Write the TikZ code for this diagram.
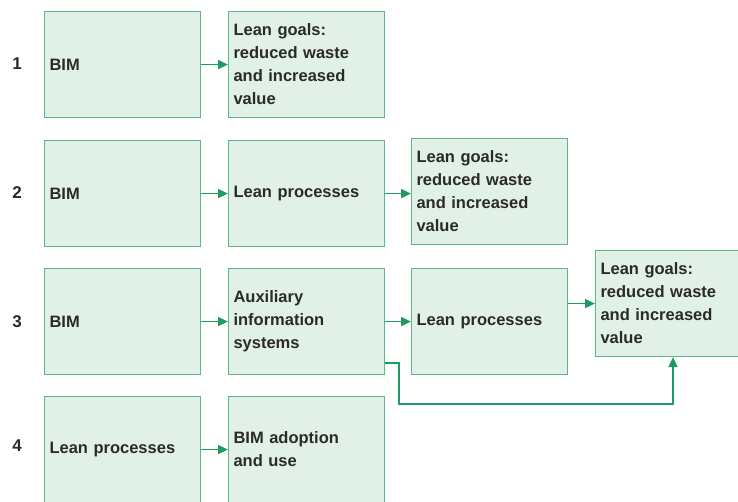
\documentclass[tikz,border=0pt]{standalone}
\usepackage{fontspec}
\setmainfont{Liberation Sans}
\usetikzlibrary{arrows.meta,calc}
\definecolor{boxfill}{HTML}{E2F1E8}
\definecolor{boxline}{HTML}{5BB787}
\definecolor{arrowc}{HTML}{1E9A62}
\definecolor{txt}{HTML}{2A2A2A}
\tikzset{
  stage/.style={draw=boxline, line width=1.1pt, fill=boxfill, rectangle, anchor=north west,
    minimum width=156pt, minimum height=106pt, text width=146pt, inner xsep=5pt,
    align=left, font=\bfseries\fontsize{16.5}{23}\selectfont, text=txt},
  num/.style={font=\bfseries\fontsize{17}{20}\selectfont, text=txt},
  flow/.style={draw=arrowc, line width=1.8pt, -{Triangle[length=10pt,width=9pt]}}
}
\begin{document}
\begin{tikzpicture}[x=1pt,y=-1pt]
\useasboundingbox (0,0) rectangle (738,501);
% row 1
\node[num] (n1) at (17,64) {1};
\node[stage] (a1) at (44,11) {BIM};
\node[stage] (b1) at (228,11) {Lean goals:\\reduced waste\\and increased\\value};
\draw[flow] (a1) -- (b1);
% row 2
\node[num] (n2) at (17,193) {2};
\node[stage] (a2) at (44,140) {BIM};
\node[stage] (b2) at (228,140) {Lean processes};
\node[stage] (c2) at (411,138) {Lean goals:\\reduced waste\\and increased\\value};
\draw[flow] (a2) -- (b2);
\draw[flow] (b2.east) -- (c2.west |- b2.east);
% row 3
\node[num] (n3) at (17,322) {3};
\node[stage] (a3) at (44,268) {BIM};
\node[stage] (b3) at (228,268) {Auxiliary\\information\\systems};
\node[stage] (c3) at (411,268) {Lean processes};
\node[stage] (d3) at (595,250) {Lean goals:\\reduced waste\\and increased\\value};
\draw[flow] (a3) -- (b3);
\draw[flow] (b3) -- (c3);
\draw[flow] (c3.east |- d3.west) -- (d3.west);
\coordinate (k1) at (399,363);
\coordinate (k2) at (399,404);
\draw[flow] (b3.east |- k1) -- (k1) -- (k2) -- (k2 -| 673,0) -- (673,0 |- d3.south);
% row 4
\node[num] (n4) at (17,446) {4};
\node[stage] (a4) at (44,396) {Lean processes};
\node[stage] (b4) at (228,396) {BIM adoption\\and use};
\draw[flow] (a4.east |- b4.west) -- (b4.west);
\end{tikzpicture}
\end{document}
